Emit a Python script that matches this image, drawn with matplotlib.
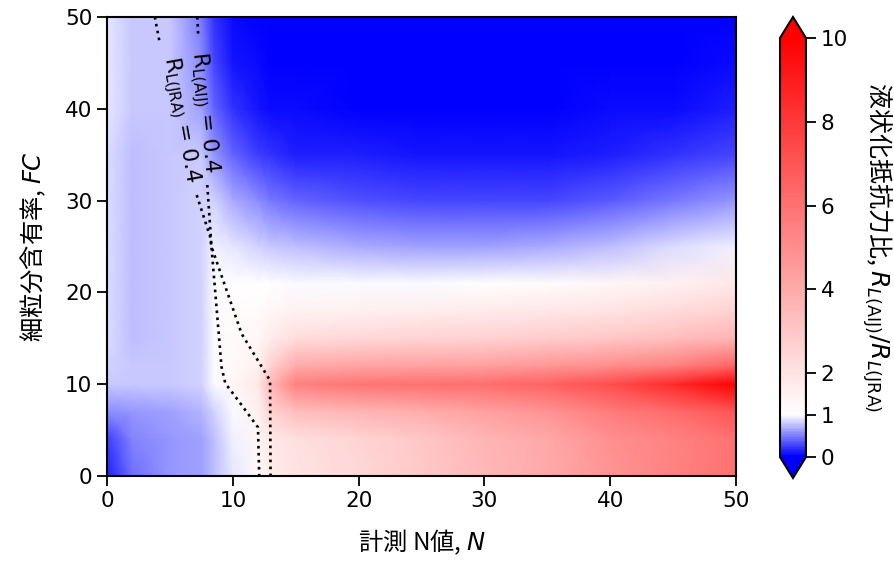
import numpy as np
import matplotlib
matplotlib.use('Agg')
import matplotlib.pyplot as plt
from matplotlib.colors import LinearSegmentedColormap, Normalize

plt.rcParams['font.family'] = ['Noto Sans CJK JP', 'DejaVu Sans']

# grid: N (columns) and FC (rows)
n_vals = [0, 2, 5, 7.5, 8.5, 10, 12, 13, 15, 20, 25, 30, 35, 40, 45, 50]
fc_vals = [0, 4, 7, 10, 12, 15, 18, 21, 25, 30, 35, 40, 45, 50]

ratio = [
    [0.15, 0.45, 0.60, 0.65, 0.75, 0.90, 1.20, 1.70, 2.00, 2.40, 2.90, 3.50, 4.00, 4.80, 5.40, 6.00],
    [0.25, 0.52, 0.60, 0.65, 0.78, 0.95, 1.30, 1.80, 2.10, 2.50, 3.00, 3.60, 4.10, 4.90, 5.40, 6.00],
    [0.55, 0.62, 0.65, 0.72, 0.85, 1.00, 1.50, 2.60, 3.30, 3.60, 3.90, 4.30, 4.80, 5.60, 6.20, 7.00],
    [0.82, 0.80, 0.82, 0.85, 1.00, 1.30, 1.80, 3.50, 5.50, 5.90, 6.00, 6.10, 6.50, 7.30, 8.50, 10.0],
    [0.85, 0.80, 0.82, 0.85, 1.00, 1.20, 1.50, 2.60, 4.00, 4.20, 4.30, 4.40, 4.70, 5.00, 5.50, 6.50],
    [0.86, 0.78, 0.80, 0.85, 1.00, 1.15, 1.30, 1.70, 2.20, 2.40, 2.50, 2.60, 2.80, 3.00, 3.30, 3.70],
    [0.87, 0.78, 0.80, 0.85, 1.00, 1.10, 1.15, 1.30, 1.45, 1.55, 1.65, 1.75, 1.85, 2.00, 2.30, 2.60],
    [0.88, 0.78, 0.80, 0.85, 1.00, 1.05, 1.05, 1.05, 1.00, 0.98, 1.00, 1.02, 1.10, 1.30, 1.50, 1.80],
    [0.88, 0.78, 0.80, 0.85, 0.97, 0.93, 0.85, 0.80, 0.75, 0.68, 0.66, 0.66, 0.70, 0.78, 0.88, 0.97],
    [0.88, 0.78, 0.80, 0.85, 0.85, 0.70, 0.55, 0.50, 0.42, 0.35, 0.30, 0.28, 0.30, 0.38, 0.50, 0.62],
    [0.89, 0.78, 0.80, 0.80, 0.60, 0.40, 0.25, 0.20, 0.15, 0.12, 0.10, 0.09, 0.10, 0.14, 0.20, 0.28],
    [0.90, 0.80, 0.80, 0.65, 0.40, 0.20, 0.10, 0.06, 0.04, 0.03, 0.02, 0.02, 0.02, 0.04, 0.07, 0.12],
    [0.90, 0.80, 0.80, 0.55, 0.28, 0.10, 0.04, 0.02, 0.00, 0.00, 0.00, 0.00, 0.00, 0.00, 0.02, 0.05],
    [0.90, 0.82, 0.80, 0.50, 0.20, 0.05, 0.02, 0.00, 0.00, 0.00, 0.00, 0.00, 0.00, 0.00, 0.00, 0.02],
]

# R_L = 0.4 lines (nan = gap for label)
aij_n = [7.18, 7.25, np.nan, 7.97, 8.3, 9.1, 9.4, 10.5, 12.0, 12.1]
aij_fc = [50, 48, np.nan, 31.7, 25, 11.9, 10.1, 8.1, 5.3, 0]
jra_n = [3.8, 4.2, np.nan, 7.13, 8.19, 8.3, 10.7, 12.96, 13.0]
jra_fc = [50, 47.1, np.nan, 30.6, 26.1, 25, 15.5, 10.4, 0]

cb_ticks = [0, 1, 2, 4, 6, 8, 10]

cmap = LinearSegmentedColormap.from_list('bwr_ratio', [(0, 'blue'), (0.1, 'white'), (1, 'red')])
norm = Normalize(vmin=0, vmax=10)

fig = plt.figure(figsize=(8.94, 5.7), dpi=100)
ax = fig.add_axes([0.1197, 0.1649, 0.7036, 0.8053])
cax = fig.add_axes([0.8725, 0.1614, 0.029, 0.8088])

NN, FF = np.meshgrid(n_vals, fc_vals)
mesh = ax.pcolormesh(NN, FF, np.array(ratio), cmap=cmap, norm=norm, shading='gouraud')

ax.plot(aij_n, aij_fc, ls=':', color='black', lw=1.9)
ax.plot(jra_n, jra_fc, ls=':', color='black', lw=1.9)
ax.text(7.7, 39.6, r'R$_{\mathrm{L(AIJ)}}$ = 0.4', rotation=-84, ha='center', va='center',
        fontsize=15.5, family='DejaVu Sans')
ax.text(5.8, 38.8, r'R$_{\mathrm{L(JRA)}}$ = 0.4', rotation=-80, ha='center', va='center',
        fontsize=15.5, family='DejaVu Sans')

ax.set_xlim(0, 50)
ax.set_ylim(0, 50)
ax.set_xticks([0, 10, 20, 30, 40, 50])
ax.set_yticks([0, 10, 20, 30, 40, 50])
ax.tick_params(labelsize=15.5, length=7, width=1.3)
for lbl in ax.get_xticklabels() + ax.get_yticklabels():
    lbl.set_fontfamily('DejaVu Sans')
for s in ax.spines.values():
    s.set_linewidth(1.5)
ax.set_xlabel(r'計測 N値, $N$', fontsize=17.5, labelpad=12)
ax.set_ylabel(r'細粒分含有率, $FC$', fontsize=17.5, labelpad=12)

cb = fig.colorbar(mesh, cax=cax, extend='both', ticks=cb_ticks)
cb.outline.set_linewidth(1.5)
cb.ax.tick_params(labelsize=15.5, length=7, width=1.3)
for lbl in cb.ax.get_yticklabels():
    lbl.set_fontfamily('DejaVu Sans')
cb.set_label(r'液状化抵抗力比, $R_{L\mathrm{(AIJ)}}/R_{L\mathrm{(JRA)}}$', rotation=270, fontsize=18, labelpad=34)

fig.savefig('out.png', dpi=100)
